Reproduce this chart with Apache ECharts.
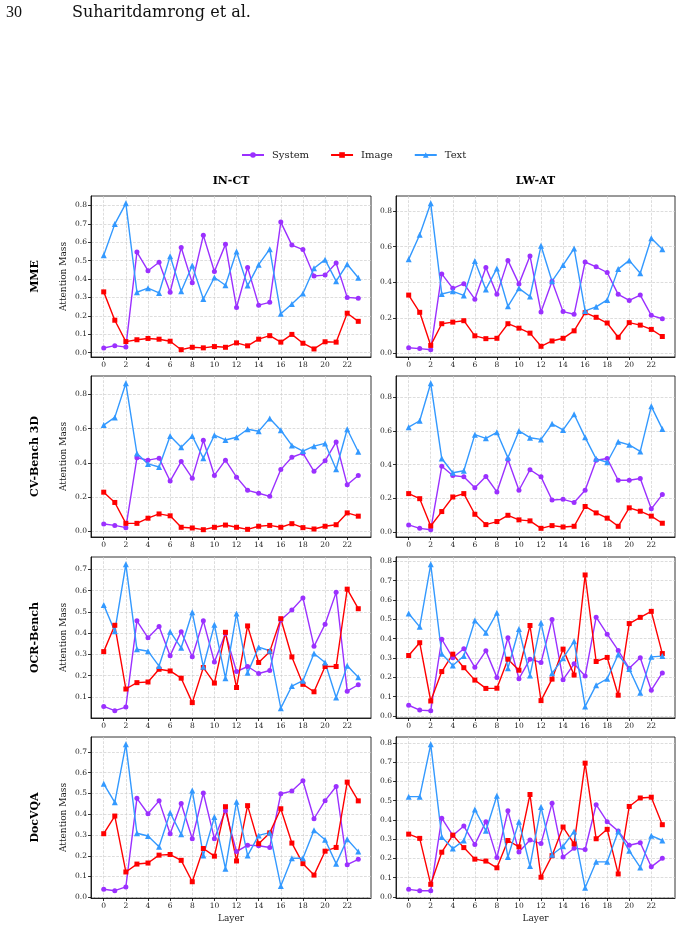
<!DOCTYPE html>
<html>
<head>
<meta charset="utf-8">
<script src="https://cdn.jsdelivr.net/npm/echarts@6/dist/echarts.min.js"></script>
<style>
  html, body { margin: 0; padding: 0; background: #fff; }
  #chart { width: 682px; height: 929px; }
</style>
</head>
<body>
<div id="chart"></div>
<script>
// layers on the x axis
const layers = [0, 1, 2, 3, 4, 5, 6, 7, 8, 9, 10, 11, 12, 13, 14, 15, 16, 17, 18, 19, 20, 21, 22, 23];
const layerTicks = [0, 2, 4, 6, 8, 10, 12, 14, 16, 18, 20, 22];
const benchmarks = ['MME', 'CV-Bench 3D', 'OCR-Bench', 'DocVQA'];
const methods = ['IN-CT', 'LW-AT'];
const seriesNames = ['System', 'Image', 'Text'];

// MME
const mmeInctSystem = [0.025, 0.038, 0.030, 0.546, 0.445, 0.491, 0.328, 0.571, 0.379, 0.637, 0.441, 0.588, 0.245, 0.462, 0.258, 0.273, 0.709, 0.584, 0.560, 0.416, 0.421, 0.487, 0.300, 0.295];
const mmeInctImage = [0.330, 0.176, 0.060, 0.070, 0.077, 0.073, 0.062, 0.016, 0.029, 0.026, 0.033, 0.029, 0.053, 0.037, 0.073, 0.092, 0.057, 0.099, 0.051, 0.020, 0.059, 0.057, 0.214, 0.170];
const mmeInctText = [0.529, 0.698, 0.811, 0.328, 0.350, 0.324, 0.524, 0.333, 0.473, 0.291, 0.408, 0.366, 0.549, 0.364, 0.478, 0.562, 0.211, 0.264, 0.321, 0.458, 0.505, 0.388, 0.480, 0.407];
const mmeLwatSystem = [0.032, 0.027, 0.021, 0.447, 0.366, 0.392, 0.305, 0.483, 0.332, 0.523, 0.391, 0.548, 0.233, 0.406, 0.235, 0.220, 0.514, 0.487, 0.455, 0.332, 0.298, 0.328, 0.214, 0.195];
const mmeLwatImage = [0.328, 0.231, 0.045, 0.167, 0.176, 0.184, 0.099, 0.083, 0.085, 0.167, 0.142, 0.114, 0.040, 0.070, 0.085, 0.127, 0.229, 0.203, 0.171, 0.091, 0.173, 0.159, 0.135, 0.095];
const mmeLwatText = [0.529, 0.667, 0.844, 0.334, 0.349, 0.326, 0.519, 0.360, 0.478, 0.265, 0.366, 0.320, 0.605, 0.406, 0.497, 0.590, 0.239, 0.262, 0.301, 0.474, 0.523, 0.451, 0.648, 0.586];

// CV-Bench 3D
const cvInctSystem = [0.043, 0.035, 0.022, 0.430, 0.416, 0.428, 0.294, 0.408, 0.311, 0.532, 0.327, 0.416, 0.317, 0.240, 0.223, 0.205, 0.361, 0.433, 0.457, 0.351, 0.412, 0.522, 0.272, 0.327];
const cvInctImage = [0.229, 0.169, 0.047, 0.047, 0.077, 0.102, 0.091, 0.024, 0.020, 0.010, 0.024, 0.037, 0.024, 0.012, 0.030, 0.035, 0.024, 0.045, 0.022, 0.014, 0.030, 0.039, 0.108, 0.089];
const cvInctText = [0.621, 0.666, 0.865, 0.455, 0.394, 0.376, 0.557, 0.491, 0.557, 0.428, 0.562, 0.534, 0.550, 0.597, 0.585, 0.660, 0.591, 0.502, 0.469, 0.498, 0.514, 0.363, 0.597, 0.465];
const cvLwatSystem = [0.044, 0.024, 0.016, 0.390, 0.336, 0.328, 0.263, 0.330, 0.239, 0.430, 0.249, 0.370, 0.328, 0.191, 0.195, 0.177, 0.249, 0.426, 0.436, 0.308, 0.308, 0.318, 0.139, 0.223];
const cvLwatImage = [0.229, 0.199, 0.038, 0.123, 0.209, 0.229, 0.107, 0.046, 0.064, 0.101, 0.074, 0.068, 0.024, 0.040, 0.032, 0.036, 0.153, 0.115, 0.084, 0.036, 0.145, 0.125, 0.096, 0.054];
const cvLwatText = [0.621, 0.659, 0.880, 0.436, 0.352, 0.364, 0.577, 0.555, 0.591, 0.440, 0.599, 0.559, 0.549, 0.641, 0.605, 0.697, 0.561, 0.434, 0.414, 0.535, 0.517, 0.478, 0.744, 0.611];

// OCR-Bench
const ocrInctSystem = [0.055, 0.035, 0.052, 0.458, 0.378, 0.431, 0.294, 0.407, 0.289, 0.458, 0.264, 0.398, 0.219, 0.243, 0.210, 0.224, 0.462, 0.509, 0.566, 0.338, 0.442, 0.592, 0.127, 0.157];
const ocrInctImage = [0.313, 0.437, 0.137, 0.167, 0.170, 0.230, 0.222, 0.188, 0.073, 0.238, 0.165, 0.404, 0.144, 0.434, 0.262, 0.313, 0.468, 0.288, 0.159, 0.124, 0.243, 0.243, 0.607, 0.515];
const ocrInctText = [0.533, 0.409, 0.724, 0.324, 0.315, 0.245, 0.407, 0.331, 0.498, 0.242, 0.439, 0.188, 0.493, 0.213, 0.334, 0.317, 0.047, 0.151, 0.176, 0.304, 0.262, 0.097, 0.246, 0.192];
const ocrLwatSystem = [0.056, 0.031, 0.028, 0.397, 0.301, 0.348, 0.252, 0.337, 0.200, 0.405, 0.193, 0.294, 0.277, 0.499, 0.188, 0.270, 0.207, 0.511, 0.423, 0.339, 0.247, 0.301, 0.134, 0.223];
const ocrLwatImage = [0.313, 0.379, 0.078, 0.230, 0.320, 0.250, 0.186, 0.143, 0.144, 0.294, 0.237, 0.468, 0.080, 0.191, 0.346, 0.212, 0.729, 0.282, 0.303, 0.108, 0.478, 0.510, 0.541, 0.323];
const ocrLwatText = [0.530, 0.461, 0.784, 0.322, 0.261, 0.310, 0.494, 0.431, 0.534, 0.247, 0.450, 0.210, 0.482, 0.221, 0.299, 0.386, 0.050, 0.160, 0.193, 0.318, 0.243, 0.120, 0.306, 0.310];

// DocVQA
const docInctSystem = [0.039, 0.032, 0.050, 0.476, 0.402, 0.464, 0.306, 0.451, 0.282, 0.502, 0.282, 0.417, 0.220, 0.251, 0.248, 0.240, 0.498, 0.511, 0.561, 0.378, 0.465, 0.533, 0.157, 0.183];
const docInctImage = [0.306, 0.391, 0.122, 0.160, 0.165, 0.203, 0.206, 0.178, 0.075, 0.235, 0.198, 0.436, 0.175, 0.441, 0.258, 0.310, 0.426, 0.261, 0.162, 0.107, 0.222, 0.240, 0.554, 0.464];
const docInctText = [0.546, 0.457, 0.736, 0.308, 0.295, 0.243, 0.407, 0.303, 0.514, 0.201, 0.386, 0.138, 0.460, 0.201, 0.298, 0.311, 0.055, 0.188, 0.188, 0.323, 0.277, 0.162, 0.279, 0.220];
const docLwatSystem = [0.039, 0.032, 0.032, 0.409, 0.319, 0.368, 0.272, 0.391, 0.204, 0.447, 0.233, 0.295, 0.277, 0.486, 0.207, 0.253, 0.246, 0.479, 0.391, 0.342, 0.268, 0.281, 0.156, 0.200];
const docLwatImage = [0.326, 0.304, 0.065, 0.232, 0.321, 0.256, 0.196, 0.186, 0.151, 0.293, 0.260, 0.532, 0.102, 0.214, 0.363, 0.275, 0.695, 0.302, 0.351, 0.119, 0.470, 0.514, 0.518, 0.375];
const docLwatText = [0.521, 0.521, 0.793, 0.311, 0.251, 0.293, 0.454, 0.344, 0.526, 0.207, 0.391, 0.160, 0.467, 0.219, 0.263, 0.340, 0.047, 0.182, 0.182, 0.340, 0.239, 0.153, 0.318, 0.293];

// y tick step per panel (row-major)
const yTickSteps = [0.1, 0.2, 0.2, 0.2, 0.1, 0.1, 0.1, 0.1];

const panels = [
  [mmeInctSystem, mmeInctImage, mmeInctText],
  [mmeLwatSystem, mmeLwatImage, mmeLwatText],
  [cvInctSystem, cvInctImage, cvInctText],
  [cvLwatSystem, cvLwatImage, cvLwatText],
  [ocrInctSystem, ocrInctImage, ocrInctText],
  [ocrLwatSystem, ocrLwatImage, ocrLwatText],
  [docInctSystem, docInctImage, docInctText],
  [docLwatSystem, docLwatImage, docLwatText]
];

const colors = ['#9b30ff', '#ff0000', '#3399ff'];
const symbols = ['circle', 'rect', 'triangle'];
const symbolSizes = [5, 5, 6];
const serif = 'DejaVu Serif';

const colLeft = [91, 396];
const colWidth = [280, 279];
const rowTop = [196, 376, 557, 737];
const plotHeight = 161;

const chart = echarts.init(document.getElementById('chart'));

const grids = [], xAxes = [], yAxes = [], series = [], graphics = [];

panels.forEach((panel, i) => {
  const row = Math.floor(i / 2), col = i % 2;
  grids.push({ left: colLeft[col], top: rowTop[row], width: colWidth[col], height: plotHeight,
    show: true, borderColor: '#000', borderWidth: 0.8, backgroundColor: 'transparent' });

  // matplotlib style 5% margins
  const all = [].concat(...panel);
  const lo = Math.min(...all), hi = Math.max(...all);
  const pad = (hi - lo) * 0.05;
  const yMin = lo - pad, yMax = hi + pad;
  const step = yTickSteps[i];
  const yTicks = [];
  for (let k = Math.ceil(yMin / step - 1e-9); k * step <= yMax + 1e-9; k++) {
    yTicks.push(Math.round(k * step * 10) / 10);
  }

  xAxes.push({
    gridIndex: i, type: 'value', min: -1.15, max: 24.15,
    name: row === 3 ? 'Layer' : '', nameLocation: 'middle', nameGap: 16,
    nameTextStyle: { fontFamily: serif, fontSize: 9, color: '#222' },
    axisLine: { show: true, onZero: false, lineStyle: { color: '#000', width: 0.8 } },
    axisTick: { show: true, length: 3, customValues: layerTicks, lineStyle: { color: '#000', width: 0.8 } },
    axisLabel: { customValues: layerTicks, fontFamily: serif, fontSize: 7.5, color: '#222', margin: 4 },
    splitLine: { show: true, lineStyle: { type: 'dashed', color: '#cfcfcf', width: 0.7 } }
  });
  yAxes.push({
    gridIndex: i, type: 'value', min: yMin, max: yMax,
    name: col === 0 ? 'Attention Mass' : '', nameLocation: 'middle', nameGap: 23,
    nameTextStyle: { fontFamily: serif, fontSize: 9, color: '#222' },
    axisLine: { show: true, onZero: false, lineStyle: { color: '#000', width: 0.8 } },
    axisTick: { show: true, length: 3, customValues: yTicks, lineStyle: { color: '#000', width: 0.8 } },
    axisLabel: { customValues: yTicks, formatter: v => v.toFixed(1), fontFamily: serif, fontSize: 7.5, color: '#222', margin: 4 },
    splitLine: { show: true, lineStyle: { type: 'dashed', color: '#cfcfcf', width: 0.7 } }
  });

  panel.forEach((values, s) => {
    series.push({
      name: seriesNames[s], type: 'line', xAxisIndex: i, yAxisIndex: i,
      data: layers.map((l, j) => [l, values[j]]),
      symbol: symbols[s], symbolSize: symbolSizes[s], showAllSymbol: true,
      lineStyle: { color: colors[s], width: 1.4 },
      itemStyle: { color: colors[s] },
      animation: false
    });
  });
});

// row labels
benchmarks.forEach((b, r) => {
  graphics.push({
    type: 'text', x: 35, y: rowTop[r] + plotHeight / 2, rotation: Math.PI / 2,
    style: { text: b, font: 'bold 11px "DejaVu Serif"', fill: '#000', align: 'center', verticalAlign: 'middle' }
  });
});
// column titles
methods.forEach((m, c) => {
  graphics.push({
    type: 'text', x: colLeft[c] + colWidth[c] / 2, y: 181,
    style: { text: m, font: 'bold 11px "DejaVu Serif"', fill: '#000', align: 'center', verticalAlign: 'middle' }
  });
});
// page header
graphics.push({ type: 'text', x: 6, y: 13, style: { text: '30', font: '16px "Liberation Serif"', fill: '#111', verticalAlign: 'middle' } });
graphics.push({ type: 'text', x: 72, y: 13, style: { text: 'Suharitdamrong et al.', font: '16px "DejaVu Serif"', fill: '#111', verticalAlign: 'middle' } });

chart.setOption({
  animation: false,
  backgroundColor: '#fff',
  legend: {
    data: seriesNames, top: 145, left: 236, itemWidth: 22, itemHeight: 7, itemGap: 21,
    textStyle: { fontFamily: serif, fontSize: 10, color: '#222', padding: [0, 0, 0, 3] }
  },
  grid: grids,
  xAxis: xAxes,
  yAxis: yAxes,
  series: series,
  graphic: graphics
});
</script>
</body>
</html>
